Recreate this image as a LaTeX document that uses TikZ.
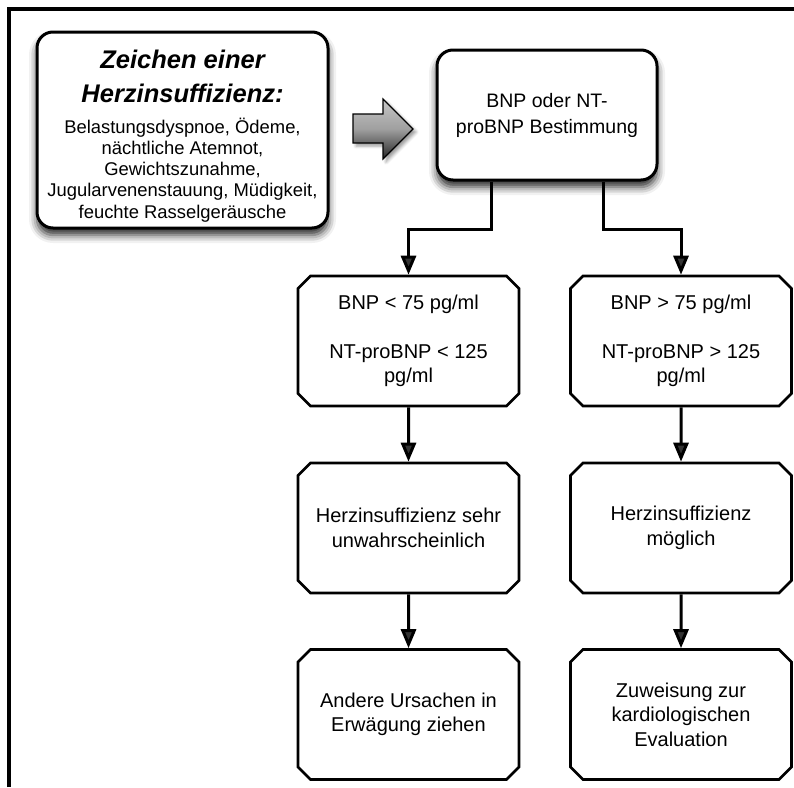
\documentclass[tikz,border=0pt]{standalone}
\usepackage{fontspec}
\setmainfont{Liberation Sans}
\usetikzlibrary{shapes.misc,arrows.meta,shadows.blur}
\begin{document}
\begin{tikzpicture}[x=1pt,y=-1pt,
  sbox/.style={draw=black, line width=3pt, fill=white, rounded corners=16pt,
    blur shadow={shadow xshift=0pt, shadow yshift=-7pt, shadow blur radius=8pt, shadow opacity=85}},
  cbox/.style={chamfered rectangle, chamfered rectangle xsep=9pt, draw=black, line width=2.6pt,
    fill=white, minimum width=221pt, minimum height=130pt, inner sep=0pt,
    align=center, font=\fontsize{20}{24.5}\selectfont},
  conn/.style={line width=3pt, -{Triangle[width=15pt,length=19pt]}}
]
\useasboundingbox (0,0) rectangle (794,787);
% frame
\draw[line width=3.5pt] (9,787) -- (9,9) -- (794,9);

% left symptom box
\node[sbox, minimum width=291pt, minimum height=196pt, inner sep=0pt] (sym) at (182.5,130) {};
\node[align=center, font=\fontsize{25.5}{34}\selectfont\bfseries\itshape, inner sep=0pt] (symtitle) at (182.5,76)
  {Zeichen einer\\Herzinsuffizienz:};
\node[align=center, font=\fontsize{18.4}{21.2}\selectfont, inner sep=0pt] (symbody) at (182.5,170)
  {Belastungsdyspnoe, Ödeme,\\nächtliche Atemnot,\\Gewichtszunahme,\\Jugularvenenstauung, Müdigkeit,\\feuchte Rasselgeräusche};

% big grey arrow
\path[draw=black, line width=1.2pt, top color=gray!45, bottom color=black!85, middle color=gray!75,
  blur shadow={shadow xshift=3pt, shadow yshift=-3pt, shadow blur radius=3pt, shadow opacity=40}]
  (353,114) -- (383,114) -- (383,99) -- (413,129) -- (383,159) -- (383,143) -- (353,143) -- cycle;

% test box
\node[sbox, minimum width=220pt, minimum height=130pt, inner sep=0pt, align=center,
  font=\fontsize{19.5}{26}\selectfont] (test) at (547,115) {BNP oder NT-\\proBNP Bestimmung};

% decision boxes
\node[cbox] (l1) at (408.5,341) {BNP < 75 pg/ml\\[24pt]NT-proBNP < 125\\pg/ml};
\node[cbox] (r1) at (681,341) {BNP > 75 pg/ml\\[24pt]NT-proBNP > 125\\pg/ml};
\node[cbox] (l2) at (408.5,528) {Herzinsuffizienz sehr\\unwahrscheinlich};
\node[cbox] (r2) at (681,528) {Herzinsuffizienz\\möglich};
\node[cbox] (l3) at (408.5,714.5) {Andere Ursachen in\\Erwägung ziehen};
\node[cbox] (r3) at (681,714.5) {Zuweisung zur\\kardiologischen\\Evaluation};

% connectors
\draw[conn] ([xshift=-56pt]test.south) -- ++(0,48) -| (l1.north);
\draw[conn] ([xshift=56pt]test.south) -- ++(0,48) -| (r1.north);
\draw[conn] (l1) -- (l2);
\draw[conn] (l2) -- (l3);
\draw[conn] (r1) -- (r2);
\draw[conn] (r2) -- (r3);
\end{tikzpicture}
\end{document}
